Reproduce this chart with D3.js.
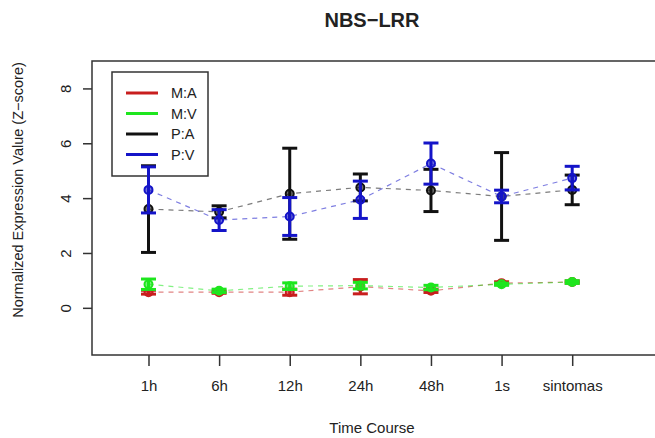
<!DOCTYPE html>
<html>
<head>
<meta charset="utf-8">
<script src="https://cdn.jsdelivr.net/npm/d3@7"></script>
<style>
  html, body { margin: 0; padding: 0; background: #fff; }
  svg text { font-family: "Liberation Sans", Arial, sans-serif; fill: #222; }
</style>
</head>
<body>
<div id="chart"></div>
<script>
const timePoints = ['1h', '6h', '12h', '24h', '48h', '1s', 'sintomas'];
const yTicks = [0, 2, 4, 6, 8];
const seriesNames = ['M:A', 'M:V', 'P:A', 'P:V'];
const maMean = [0.57, 0.57, 0.57, 0.77, 0.62, 0.90, 0.94];
const maErr = [0.07, 0.04, 0.11, 0.26, 0.06, 0.05, 0.04];
const mvMean = [0.86, 0.62, 0.79, 0.81, 0.74, 0.86, 0.94];
const mvErr = [0.19, 0.06, 0.12, 0.12, 0.08, 0.04, 0.05];
const paMean = [3.60, 3.50, 4.16, 4.39, 4.28, 4.06, 4.30];
const paErr = [1.58, 0.22, 1.66, 0.49, 0.77, 1.60, 0.54];
const pvMean = [4.30, 3.20, 3.33, 3.94, 5.26, 4.06, 4.73];
const pvErr = [0.84, 0.38, 0.69, 0.68, 0.75, 0.23, 0.43];

const W = 655, H = 438;
const mLeft = 92, mTop = 61, mBottom = 355, mRight = 664;
const colors = { 'M:A': '#c81e1e', 'M:V': '#1ee61e', 'P:A': '#111111', 'P:V': '#1414c8' };

const series = [
  { name: 'M:A', mean: maMean, err: maErr },
  { name: 'M:V', mean: mvMean, err: mvErr },
  { name: 'P:A', mean: paMean, err: paErr },
  { name: 'P:V', mean: pvMean, err: pvErr },
];

const x = d3.scaleLinear().domain([0.2, 8.3]).range([mLeft, mRight]);
const y = d3.scaleLinear().domain([-1.72, 9.0]).range([mBottom, mTop]);

const svg = d3.select('#chart').append('svg').attr('width', W).attr('height', H);

// title
svg.append('text').attr('x', 372).attr('y', 27).attr('text-anchor', 'middle')
  .attr('font-size', 20).attr('font-weight', 'bold').text('NBS\u2212LRR');

// y axis, labels rotated like R's default
const yAxis = svg.append('g').attr('transform', `translate(${mLeft},0)`)
  .call(d3.axisLeft(y).tickValues(yTicks).tickSize(9));
yAxis.select('.domain').remove();
yAxis.selectAll('.tick line').attr('stroke', '#333').attr('stroke-width', 1.5);
yAxis.selectAll('.tick text').attr('font-size', 15).attr('fill', '#333')
  .attr('x', null).attr('dy', null).attr('text-anchor', 'middle')
  .attr('transform', 'translate(-21,0) rotate(-90)');

const xAxis = svg.append('g').attr('transform', `translate(0,${mBottom})`)
  .call(d3.axisBottom(x).tickValues(d3.range(1, timePoints.length + 1))
    .tickFormat((d) => timePoints[d - 1]).tickSize(11).tickPadding(14));
xAxis.select('.domain').remove();
xAxis.selectAll('.tick line').attr('stroke', '#333').attr('stroke-width', 1.5);
xAxis.selectAll('.tick text').attr('font-size', 15).attr('fill', '#333');

// plot box
svg.append('rect').attr('x', mLeft).attr('y', mTop)
  .attr('width', mRight - mLeft).attr('height', mBottom - mTop)
  .attr('fill', 'none').attr('stroke', '#333').attr('stroke-width', 1.5);

// axis titles
svg.append('text').attr('x', 372).attr('y', 433).attr('text-anchor', 'middle')
  .attr('font-size', 15).attr('fill', '#333').text('Time Course');
svg.append('text').attr('transform', 'translate(23,190) rotate(-90)').attr('text-anchor', 'middle')
  .attr('font-size', 14.5).attr('fill', '#333').text('Normalized Expression Value (Z\u2212score)');

// legend (drawn under the series, the 1h bar sits over its frame)
const lg = svg.append('g');
lg.append('rect').attr('x', 112).attr('y', 72).attr('width', 96).attr('height', 104)
  .attr('fill', '#fff').attr('stroke', '#333').attr('stroke-width', 1.5);
seriesNames.forEach((n, i) => {
  const yy = 93 + i * 20.5;
  lg.append('line').attr('x1', 126).attr('x2', 158).attr('y1', yy).attr('y2', yy)
    .attr('stroke', colors[n]).attr('stroke-width', 3);
  lg.append('text').attr('x', 171).attr('y', yy).attr('dy', '0.35em')
    .attr('font-size', 14.5).attr('fill', '#333').text(n);
});

// series
const line = d3.line().x((d, i) => x(i + 1)).y((d) => y(d));
series.forEach((s) => {
  const g = svg.append('g');
  const c = colors[s.name];
  g.append('path').datum(s.mean).attr('d', line).attr('fill', 'none')
    .attr('stroke', c).attr('stroke-opacity', 0.55).attr('stroke-width', 1.2)
    .attr('stroke-dasharray', '5,5');
  const bars = g.selectAll('g.bar').data(s.mean).join('g').attr('class', 'bar');
  bars.append('line').attr('x1', (d, i) => x(i + 1)).attr('x2', (d, i) => x(i + 1))
    .attr('y1', (d, i) => y(d - s.err[i])).attr('y2', (d, i) => y(d + s.err[i]))
    .attr('stroke', c).attr('stroke-width', 3);
  [-1, 1].forEach((sgn) => {
    bars.append('line').attr('x1', (d, i) => x(i + 1) - 7.5).attr('x2', (d, i) => x(i + 1) + 7.5)
      .attr('y1', (d, i) => y(d + sgn * s.err[i])).attr('y2', (d, i) => y(d + sgn * s.err[i]))
      .attr('stroke', c).attr('stroke-width', 3);
  });
  bars.append('circle').attr('cx', (d, i) => x(i + 1)).attr('cy', (d) => y(d)).attr('r', 4)
    .attr('fill', c).attr('fill-opacity', 0.6).attr('stroke', c).attr('stroke-width', 2);
});
</script>
</body>
</html>
